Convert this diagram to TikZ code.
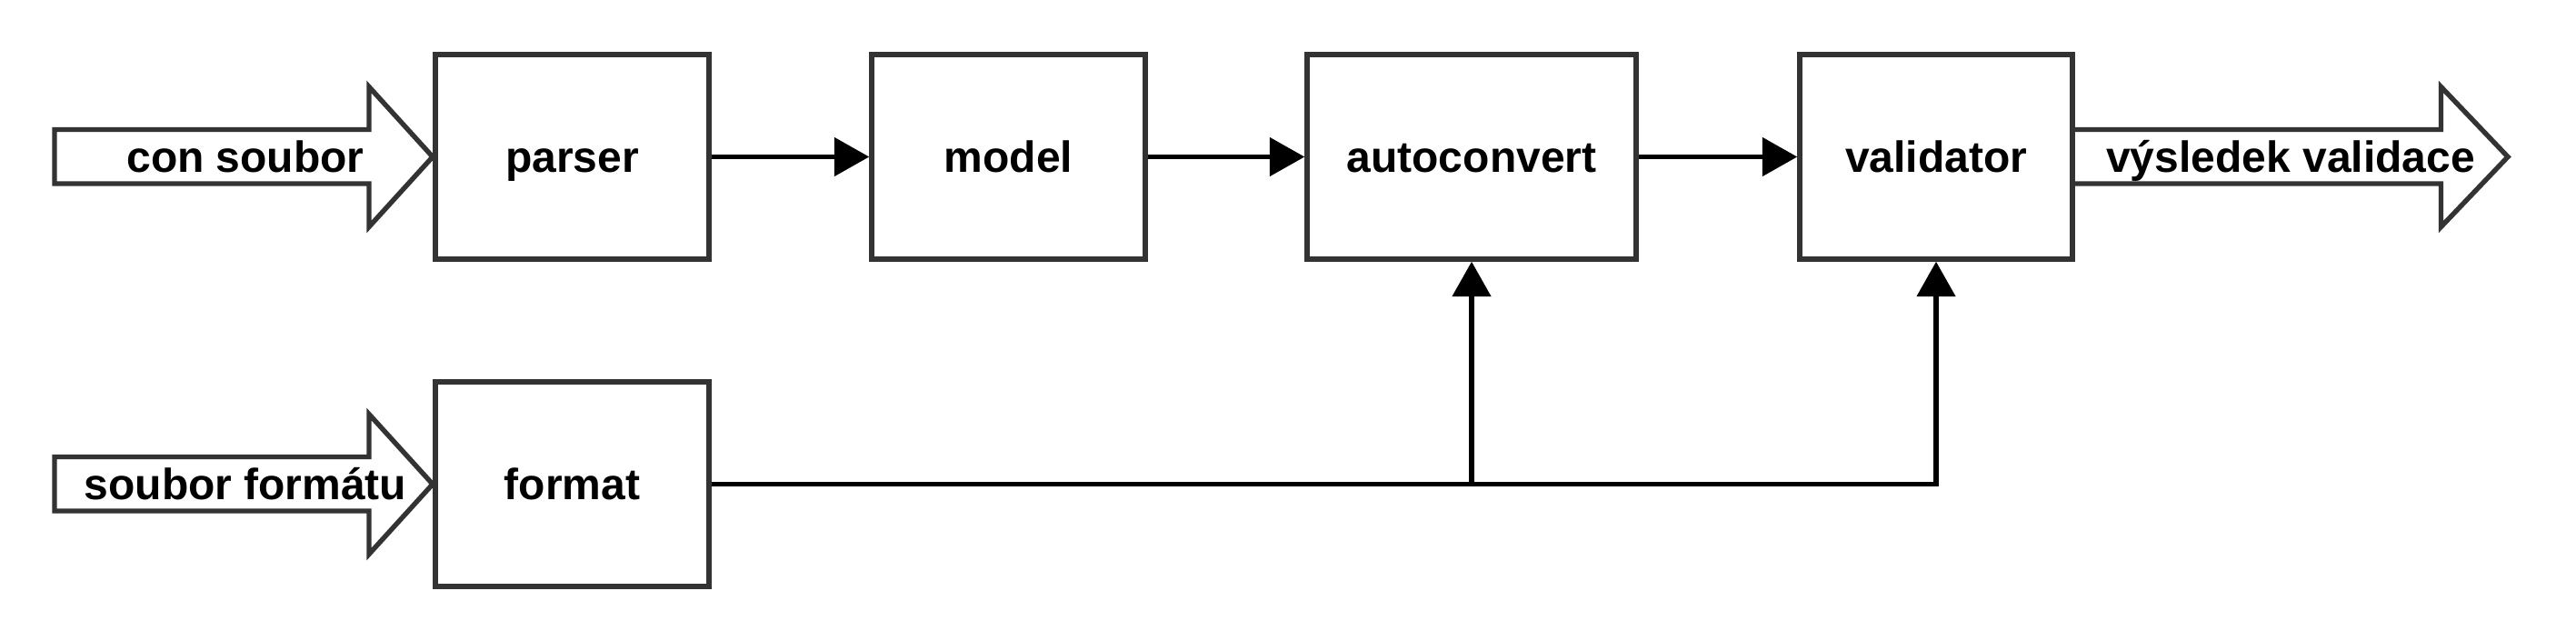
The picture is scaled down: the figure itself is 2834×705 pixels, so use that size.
\documentclass[tikz,border=0pt]{standalone}
\usepackage{fontspec}
\setmainfont{Liberation Sans}
\usetikzlibrary{arrows.meta}
\definecolor{bordergray}{HTML}{333333}
\begin{document}
\begin{tikzpicture}[x=0.25pt,y=-0.25pt,
  lblfont/.style={font=\bfseries\fontsize{12}{14}\selectfont, text height=8.6pt, text depth=0pt},
  box/.style={draw=bordergray, line width=1.35pt, minimum width=75.25pt, minimum height=56.25pt, inner sep=0pt, fill=white, lblfont},
  lbl/.style={inner sep=0pt, lblfont},
  bigarrow/.style={draw=bordergray, line width=1.35pt, fill=white, line join=miter},
  conn/.style={draw=black, line width=1.45pt, -{Triangle[length=9.6pt,width=10.4pt]}}]
\useasboundingbox (0,0) rectangle (2834,705);
% block arrows
\draw[bigarrow] (60,142.5) -- (406,142.5) -- (406,95.5) -- (476,172.5) -- (406,249.5) -- (406,202) -- (60,202) -- cycle;
\draw[bigarrow] (60,502.5) -- (406,502.5) -- (406,455.5) -- (476,532.5) -- (406,609.5) -- (406,562) -- (60,562) -- cycle;
\draw[bigarrow] (2280,142.5) -- (2685.5,142.5) -- (2685.5,95.5) -- (2759,172.5) -- (2685.5,249.5) -- (2685.5,202) -- (2280,202) -- cycle;
\node[lbl] (in1) at (270,172.5) {con soubor};
\node[lbl] (in2) at (270,532.5) {soubor formátu};
% boxes
\node[box] (parser) at (629.5,172.5) {parser};
\node[box] (model) at (1109.5,172.5) {model};
\node[box, minimum width=90.5pt] (autoconvert) at (1619,172.5) {autoconvert};
\node[box, minimum width=75pt] (validator) at (2130,172.5) {validator};
\node[box] (format) at (629.5,532.5) {format};
\node[lbl] (out) at (2520,172.5) {výsledek validace};
% connectors
\draw[conn] (parser) -- (model);
\draw[conn] (model) -- (autoconvert);
\draw[conn] (autoconvert) -- (validator);
\draw[conn] (format.east) -| (autoconvert.south);
\draw[conn] (format.east) -| (validator.south);
\end{tikzpicture}
\end{document}
